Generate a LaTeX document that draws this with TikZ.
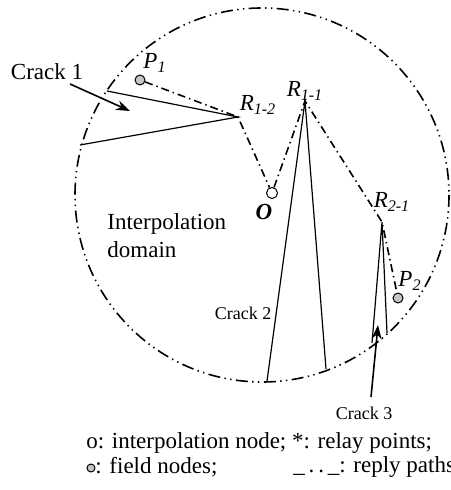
\documentclass[tikz,border=0pt]{standalone}
\usepackage{fontspec}
\setmainfont{Liberation Serif}
\usetikzlibrary{arrows.meta}

\begin{document}
\begin{tikzpicture}[x=0.5pt, y=-0.5pt,
    rim/.style={line width=0.8pt, dash pattern=on 6pt off 2.2pt on 0.7pt off 2.2pt on 0.7pt off 2.2pt},
    reply/.style={line width=0.8pt, dash pattern=on 4pt off 2pt on 0.7pt off 2pt},
    crk/.style={line width=0.6pt},
    arr/.style={-{Stealth[length=7pt,width=5pt]}, line width=0.8pt},
    fnode/.style={circle, draw, line width=0.5pt, fill=gray!45, inner sep=0pt, minimum size=5pt},
    inode/.style={circle, draw, line width=0.5pt, inner sep=0pt, minimum size=5.5pt},
    txt/.style={font=\fontsize{11.5}{14}\selectfont, inner sep=0pt},
    sm/.style={font=\fontsize{9}{11}\selectfont, inner sep=0pt}]
  \useasboundingbox (0,0) rectangle (450,490);
  % domain boundary
  \draw[rim] (262,195) circle[radius=187];
  % field nodes, interpolation node, relay points
  \node[fnode] (p1) at (140,80) {};
  \node[fnode] (p2) at (398,298) {};
  \node[inode] (o) at (272,193) {};
  \coordinate (r12) at (238,117);
  \coordinate (r11) at (305,101);
  \coordinate (r21) at (382,222);
  % reply path
  \draw[reply] (p1) -- (r12) -- (o) -- (r11) -- (r21) -- (p2);
  % cracks
  \coordinate (c1a) at (107,91);  \coordinate (c1b) at (80,145);
  \coordinate (c2a) at (267,381); \coordinate (c2b) at (326,369);
  \coordinate (c3a) at (372,343); \coordinate (c3b) at (387,333);
  \draw[crk] (c1a) -- (r12) -- (c1b);
  \draw[crk] (c2a) -- (r11) -- (c2b);
  \draw[crk] (c3a) -- (r21) -- (c3b);
  % point labels
  \node[txt] (lp1) at (155,63) {\textit{P\textsubscript{1}}};
  \node[txt] (lp2) at (410,281) {\textit{P\textsubscript{2}}};
  \node[txt] (lr12) at (258,105) {\textit{R\textsubscript{1-2}}};
  \node[txt] (lr11) at (305,91) {\textit{R\textsubscript{1-1}}};
  \node[txt] (lr21) at (392,202) {\textit{R\textsubscript{2-1}}};
  \node[txt] (lo) at (264,212) {\textbf{\textit{O}}};
  \node[txt, anchor=west, align=left] (dom) at (107,236) {Interpolation\\domain};
  % crack labels
  \node[txt] (k1) at (47,72) {Crack 1};
  \coordinate (k1tail) at (70,84);  \coordinate (k1tip) at (130,111);
  \draw[arr] (k1tail) -- (k1tip);
  \node[sm] (k2) at (243,313) {Crack 2};
  \node[sm] (k3) at (364,413) {Crack 3};
  \coordinate (k3tail) at (371,397); \coordinate (k3tip) at (378,325);
  \draw[arr] (k3tail) -- (k3tip);
  % legend
  \node[txt, anchor=west] (leg1) at (86,443) {o: interpolation node; *: relay points;};
  \node[fnode, minimum size=4pt] (legf) at (91,468) {};
  \node[txt, anchor=west] (leg2) at (95,467) {: field nodes;};
  \node[txt, anchor=west] (leg3) at (293,467) {\_\,.\,.\,\_: reply paths};
\end{tikzpicture}
\end{document}
